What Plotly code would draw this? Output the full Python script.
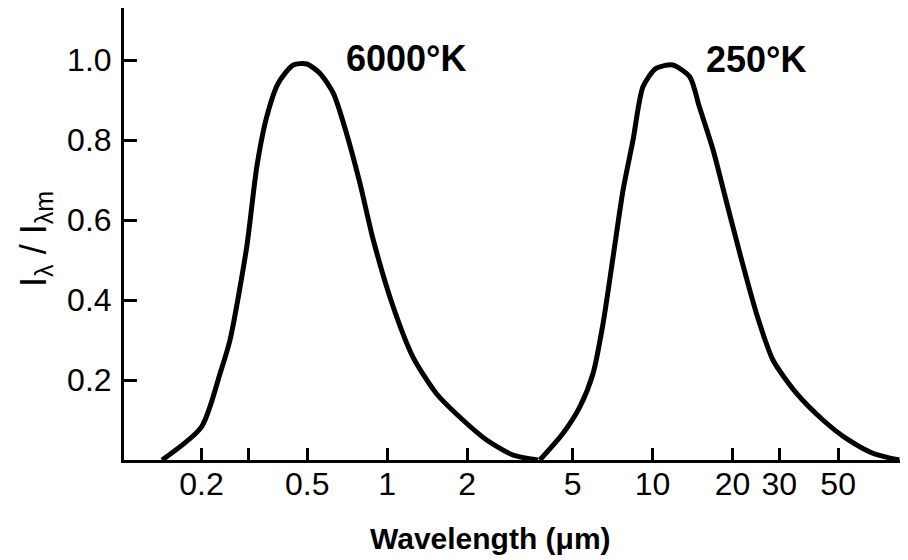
import plotly.graph_objects as go

# 6000 K curve (wavelength in micrometres, normalised intensity)
wl_6000 = [0.142, 0.200, 0.235, 0.256, 0.296, 0.323, 0.352, 0.389, 0.443, 0.498,
           0.558, 0.627, 0.703, 0.790, 0.887, 1.054, 1.25, 1.53, 1.93, 2.37, 2.98, 3.7]
i_6000 = [0.0, 0.083, 0.217, 0.30, 0.533, 0.733, 0.858, 0.942, 0.9875, 0.99,
          0.967, 0.917, 0.817, 0.692, 0.55, 0.383, 0.258, 0.167, 0.10, 0.05, 0.0125, 0.0]

# 250 K curve
wl_250 = [3.76, 4.60, 5.32, 5.97, 6.51, 7.10, 7.74, 8.44, 9.20, 10.3, 11.9, 13.8,
          15.0, 16.9, 18.9, 21.3, 24.6, 28.4, 34.8, 43.8, 53.6, 67.5, 85.0]
i_250 = [0.0, 0.067, 0.133, 0.217, 0.342, 0.508, 0.675, 0.80, 0.933, 0.979, 0.9875, 0.958,
         0.883, 0.775, 0.65, 0.517, 0.367, 0.25, 0.167, 0.10, 0.054, 0.017, 0.0]

x_tickvals = [0.2, 0.3, 0.5, 1, 2, 5, 10, 20, 30, 50]
x_ticktext = ["0.2", "", "0.5", "1", "2", "5", "10", "20", "30", "50"]
y_tickvals = [0.2, 0.4, 0.6, 0.8, 1.0]
y_ticktext = ["0.2", "0.4", "0.6", "0.8", "1.0"]
curve_labels = ["6000°K", "250°K"]

FONT = "Liberation Sans, Arial, sans-serif"

fig = go.Figure()
for wl, inten in [(wl_6000, i_6000), (wl_250, i_250)]:
    fig.add_trace(go.Scatter(
        x=wl, y=inten, mode="lines",
        line=dict(color="black", width=5, shape="spline", smoothing=0.7),
        showlegend=False, hoverinfo="skip"))

fig.update_layout(
    width=908, height=560,
    margin=dict(l=116, r=8, t=0, b=108),
    paper_bgcolor="white", plot_bgcolor="white",
    font=dict(family=FONT, color="black"),
    xaxis=dict(
        type="log", range=[-0.991, 1.962],
        tickvals=x_tickvals, ticktext=x_ticktext,
        ticks="inside", ticklen=12, tickwidth=2.5, tickcolor="black",
        showline=True, linecolor="black", linewidth=3,
        showgrid=False, zeroline=False,
        tickfont=dict(size=32, family=FONT),
        ticklabelstandoff=-6,
    ),
    yaxis=dict(
        range=[0, 1.13],
        tickvals=y_tickvals, ticktext=y_ticktext,
        ticks="inside", ticklen=13, tickwidth=2.5, tickcolor="black",
        showline=True, linecolor="black", linewidth=3,
        showgrid=False, zeroline=False,
        tickfont=dict(size=32, family=FONT),
        ticklabelstandoff=3,
    ),
    annotations=[
        dict(text="<b>" + curve_labels[0] + "</b>", x=0.36, y=0.889, xref="paper", yref="paper",
             showarrow=False, font=dict(size=36, family=FONT), xanchor="center", yanchor="middle"),
        dict(text="<b>" + curve_labels[1] + "</b>", x=0.806, y=0.887, xref="paper", yref="paper",
             showarrow=False, font=dict(size=36, family=FONT), xanchor="center", yanchor="middle"),
        dict(text="<b>Wavelength (μm)</b>", x=0.467, y=-0.173, xref="paper", yref="paper",
             showarrow=False, font=dict(size=30, family=FONT), xanchor="center", yanchor="middle"),
        dict(text="I<sub>λ</sub> / I<sub>λm</sub>", x=-0.113, y=0.49, xref="paper", yref="paper",
             showarrow=False, textangle=-90, font=dict(size=36, family=FONT),
             xanchor="center", yanchor="middle"),
    ],
)

fig.write_html("out.html")
